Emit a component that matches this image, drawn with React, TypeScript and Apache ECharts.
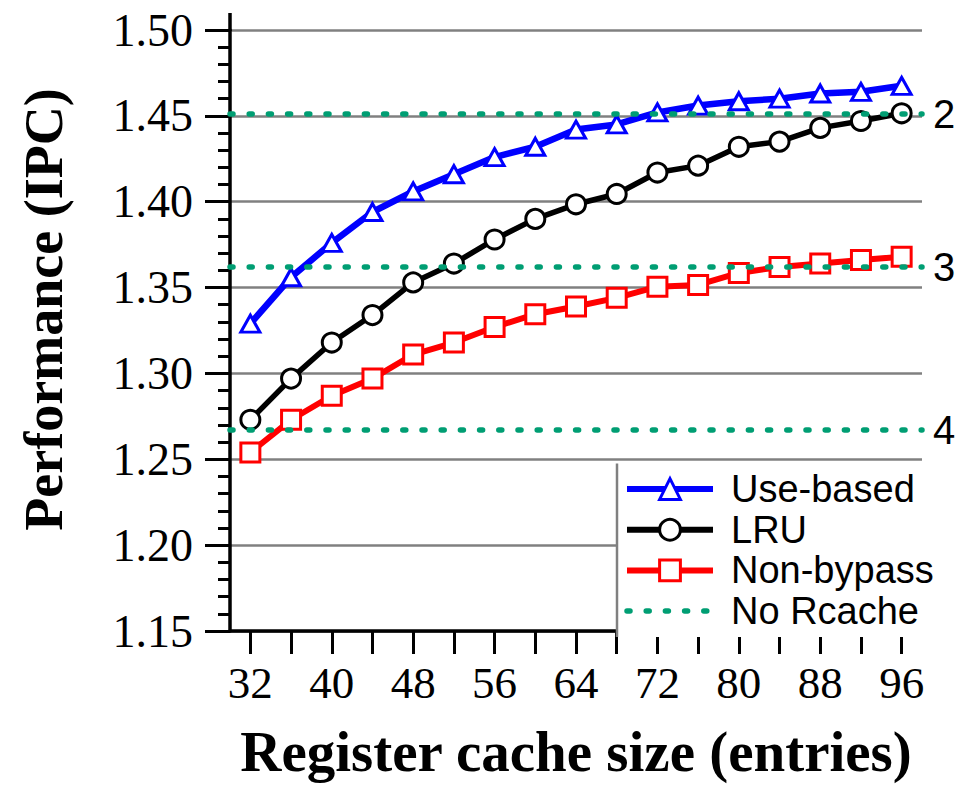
import React, { useEffect, useRef } from "react";
import * as echarts from "echarts";

const sizes = ["32", "36", "40", "44", "48", "52", "56", "60", "64", "68", "72", "76", "80", "84", "88", "92", "96"];
const useBased = [1.329, 1.356, 1.376, 1.394, 1.406, 1.416, 1.426, 1.432, 1.442, 1.445, 1.452, 1.456, 1.4585, 1.46, 1.463, 1.464, 1.4675];
const lru = [1.273, 1.297, 1.318, 1.334, 1.353, 1.364, 1.378, 1.39, 1.3985, 1.4045, 1.417, 1.421, 1.432, 1.435, 1.443, 1.447, 1.4515];
const nonBypass = [1.254, 1.273, 1.287, 1.297, 1.311, 1.318, 1.327, 1.3345, 1.339, 1.344, 1.3505, 1.3515, 1.3585, 1.362, 1.364, 1.366, 1.368];
const noRcache = [1.451, 1.362, 1.267];
const noRcacheLabels = ["2", "3", "4"];
const seriesNames = ["Use-based", "LRU", "Non-bypass", "No Rcache"];

const SERIF = "'Liberation Serif', 'Times New Roman', serif";
const SANS = "'Liberation Sans', Arial, sans-serif";
const GREEN = "#009E73";
const DOT = [3, 16.2];

export default function App() {
  const ref = useRef<HTMLDivElement>(null);
  useEffect(() => {
    if (!ref.current) return;
    const chart = echarts.init(ref.current, undefined, { renderer: "svg" });
    const markerSeries = (name: string, data: number[], color: string, symbol: string, size: any, lw: number) => ({
      name,
      type: "line",
      data,
      symbol,
      symbolSize: size,
      showSymbol: true,
      lineStyle: { color, width: lw },
      itemStyle: { color: "#fff", borderColor: color, borderWidth: 3 },
      emphasis: { disabled: true },
      z: 2,
    });
    chart.setOption({
      animation: false,
      backgroundColor: "#fff",
      grid: { left: 230, right: 47, top: 30, bottom: 148 },
      xAxis: {
        type: "category",
        data: sizes,
        boundaryGap: true,
        name: "Register cache size (entries)",
        nameLocation: "middle",
        nameGap: 92,
        nameTextStyle: { fontFamily: SERIF, fontWeight: "bold", fontSize: 57, color: "#000" },
        axisLine: { lineStyle: { color: "#000", width: 3.5 } },
        axisTick: { show: true, alignWithLabel: true, interval: 0, length: 23, lineStyle: { color: "#000", width: 3 } },
        axisLabel: { interval: 1, margin: 29, fontFamily: SERIF, fontSize: 45, color: "#000" },
        splitLine: { show: false },
      },
      yAxis: {
        type: "value",
        min: 1.15,
        max: 1.5,
        interval: 0.05,
        name: "Performance (IPC)",
        nameLocation: "middle",
        nameGap: 159,
        nameTextStyle: { fontFamily: SERIF, fontWeight: "bold", fontSize: 54, color: "#000", padding: [0, 0, 0, 42] },
        axisLine: { show: true, lineStyle: { color: "#000", width: 3.5 } },
        axisTick: { show: true, length: 25, lineStyle: { color: "#000", width: 3 } },
        minorTick: { show: true, splitNumber: 5, length: 12, lineStyle: { color: "#000", width: 3 } },
        axisLabel: {
          margin: 37,
          fontFamily: SERIF,
          fontSize: 46,
          color: "#000",
          formatter: (v: number) => v.toFixed(2),
        },
        splitLine: { show: true, lineStyle: { color: "#808080", width: 2.5 } },
      },
      legend: {
        orient: "vertical",
        left: 616,
        top: 465,
        padding: [5, 12, 7, 8],
        backgroundColor: "#fff",
        borderWidth: 0,
        itemWidth: 86,
        itemHeight: 26,
        itemGap: 2.7,
        selectedMode: false,
        lineStyle: { width: 6 },
        itemStyle: { borderWidth: 3 },
        textStyle: { fontFamily: SANS, fontSize: 38, color: "#000", padding: [0, 0, 0, 13] },
        data: [
          { name: seriesNames[0] },
          { name: seriesNames[1] },
          { name: seriesNames[2] },
          { name: seriesNames[3], itemStyle: { opacity: 0 }, lineStyle: { width: 5.5, type: DOT, cap: "round" } },
        ],
      },
      graphic: [
        { type: "line", z: 100, shape: { x1: 230, y1: 13, x2: 230, y2: 31 }, style: { stroke: "#000", lineWidth: 3.5 } },
        { type: "line", z: 100, shape: { x1: 617, y1: 463.5, x2: 617, y2: 637 }, style: { stroke: "#808080", lineWidth: 2.5 } },
      ],
      series: [
        markerSeries(seriesNames[0], useBased, "#0000ff", "triangle", [19, 17], 6.5),
        markerSeries(seriesNames[1], lru, "#000000", "circle", 19, 5.5),
        markerSeries(seriesNames[2], nonBypass, "#ff0000", "rect", 19, 6),
        {
          name: seriesNames[3],
          type: "line",
          data: [],
          symbol: "none",
          lineStyle: { color: GREEN, width: 5.5, type: DOT, cap: "round" },
          itemStyle: { color: GREEN },
          markLine: {
            silent: true,
            precision: 3,
            symbol: ["none", "none"],
            z: 5,
            lineStyle: { color: GREEN, width: 5.5, type: DOT, cap: "round" },
            label: {
              show: true,
              position: "end",
              distance: 11,
              fontFamily: SANS,
              fontSize: 40,
              color: "#000",
            },
            emphasis: { disabled: true },
            data: noRcache.map((v, i) => ({ yAxis: v, label: { formatter: noRcacheLabels[i] } })),
          },
        },
      ],
    });
    return () => chart.dispose();
  }, []);
  return <div ref={ref} style={{ position: "fixed", left: 0, top: 0, width: 969, height: 785 }} />;
}
